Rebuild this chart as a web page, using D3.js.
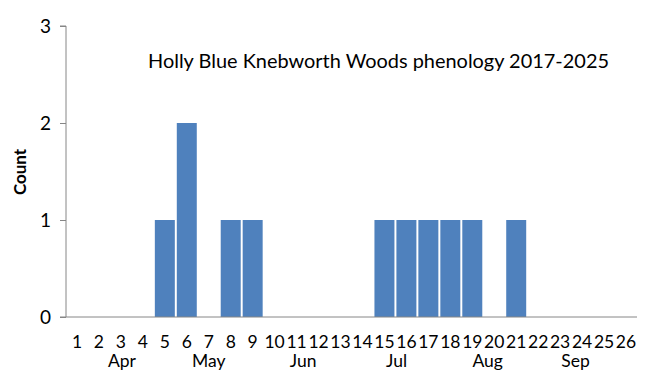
<!DOCTYPE html>
<html><head><meta charset="utf-8">
<script src="https://cdn.jsdelivr.net/npm/d3@7"></script>
<style>body{margin:0;background:#fff;} text{font-family:Lato,"Open Sans",sans-serif;fill:#000;}</style>
</head><body>
<script>
const weeks = d3.range(1, 27).map(String);
const counts = [0,0,0,0,1,2,0,1,1,0,0,0,0,0,1,1,1,1,1,0,1,0,0,0,0,0];
const months = ["Apr","May","Jun","Jul","Aug","Sep"];
const monthCentreWeek = [3.05, 7.0, 11.3, 15.55, 19.7, 23.7];
const yTicks = [0,1,2,3];
const title = "Holly Blue Knebworth Woods phenology 2017-2025";
const yTitle = "Count";

(function(){
const W = 648, H = 381;
const mL = 66, mR = 637, mT = 26, mB = 317;
const svg = d3.select("body").append("svg").attr("width", W).attr("height", H);

const x = d3.scaleBand().domain(weeks).range([mL, mR]).paddingInner(0.09).paddingOuter(0.045);
const xc = d3.scaleLinear().domain([0.5, 26.5]).range([mL, mR]);
const y = d3.scaleLinear().domain([0, 3]).range([mB, mT]);

// bars
svg.append("g").selectAll("rect").data(counts.map((c,i)=>({w:weeks[i],c})).filter(d=>d.c>0))
  .join("rect")
  .attr("x", d => x(d.w)).attr("width", x.bandwidth())
  .attr("y", d => y(d.c)).attr("height", d => y(0) - y(d.c))
  .attr("fill", "#4F81BD");

// y axis
const ya = svg.append("g").attr("transform", `translate(${mL},0)`)
  .call(d3.axisLeft(y).tickValues(yTicks).tickFormat(d3.format("d")).tickSize(6).tickPadding(9));
ya.select(".domain").attr("stroke", "#868686").attr("d", `M-6,${mT}H0V${mB}H-6`);
ya.selectAll(".tick line").attr("stroke", "#868686");
ya.selectAll(".tick text").style("font-size", "19px").attr("font-family", "Lato");

// x axis line
svg.append("line").attr("x1", mL).attr("x2", mR).attr("y1", mB).attr("y2", mB)
  .attr("stroke", "#868686").attr("stroke-width", 1);

// x tick labels
svg.append("g").selectAll("text").data(weeks).join("text")
  .attr("x", d => x(d) + x.bandwidth()/2).attr("y", 348)
  .attr("text-anchor", "middle").style("font-size", "17.5px")
  .text(d => d);

// month labels
svg.append("g").selectAll("text").data(months).join("text")
  .attr("x", (d,i) => xc(monthCentreWeek[i])).attr("y", 367)
  .attr("text-anchor", "middle").style("font-size", "17.5px")
  .text(d => d);

// title
svg.append("text").attr("x", 148).attr("y", 68)
  .attr("textLength", 461).attr("lengthAdjust", "spacingAndGlyphs")
  .style("font-size", "19px").text(title);

// y title
svg.append("text").attr("transform", "translate(26,172) rotate(-90)")
  .attr("text-anchor", "middle").style("font-size", "17px").style("font-weight", "bold")
  .text(yTitle);
})();
</script>
</body></html>
